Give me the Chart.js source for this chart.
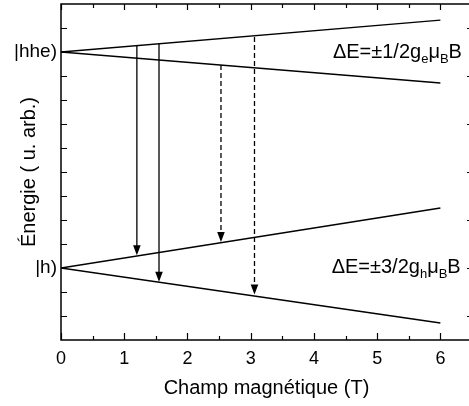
<!DOCTYPE html>
<html>
<head>
<meta charset="utf-8">
<script src="https://cdn.jsdelivr.net/npm/chart.js@4/dist/chart.umd.min.js"></script>
<style>
  html, body { margin: 0; padding: 0; background: #fff; overflow: hidden; }
  .wrap { position: relative; width: 469px; height: 406px; overflow: hidden; }
  canvas { display: block; }
</style>
</head>
<body>
<div class="wrap"><canvas id="myChart" width="480" height="406"></canvas></div>
<script>
// magnetic field (T) at the two ends of each level line
const fieldB = [0, 6];
const hheUpper = [12, 13.33];
const hheLower = [12, 10.71];
const hUpper = [3, 5.5];
const hLower = [3, 0.71];

// level names on the energy axis
const levelNames = ["|hhe)", "|h)"];
const levelValues = [12, 3];

// transition arrows
const arrowB = [1.2, 1.55, 2.53, 3.06];
const arrowFrom = [12.29, 12.36, 11.46, 12.63];
const arrowTo = [3.53, 2.43, 4.08, 1.9];
const arrowDashed = [false, false, true, true];

// splitting labels: [text, isSubscript]
const eqnHhe = [["ΔE=±1/2g", 0], ["e", 1], ["μ", 0], ["B", 1], ["B", 0]];
const eqnH = [["ΔE=±3/2g", 0], ["h", 1], ["μ", 0], ["B", 1], ["B", 0]];
const eqnAt = [[4.3, 11.75], [4.28, 2.79]];

const FONT = "'Liberation Sans', Arial, sans-serif";

const levelLine = function (ys) {
  return {
    data: fieldB.map((b, i) => ({ x: b, y: ys[i] })),
    borderColor: "#000",
    borderWidth: 1.4,
    pointRadius: 0,
    showLine: true,
  };
};

const datasets = [
  levelLine(hheUpper),
  levelLine(hheLower),
  levelLine(hUpper),
  levelLine(hLower),
];
arrowB.forEach((b, i) => {
  datasets.push({
    data: [{ x: b, y: arrowFrom[i] }, { x: b, y: arrowTo[i] + 0.15 }],
    borderColor: "#000",
    borderWidth: 1.3,
    borderDash: arrowDashed[i] ? [5, 3] : [],
    pointRadius: 0,
    showLine: true,
  });
});

// frame (right side falls off the page), inward ticks, arrowheads, equations
const decor = {
  id: "decor",
  afterDatasetsDraw(chart) {
    const c = chart.ctx;
    const a = chart.chartArea;
    const xs = chart.scales.x;
    const ys = chart.scales.y;
    c.save();
    c.strokeStyle = "#000";
    c.lineWidth = 1.5;
    c.beginPath();
    c.moveTo(a.right + 2, a.top);
    c.lineTo(a.left, a.top);
    c.lineTo(a.left, a.bottom);
    c.lineTo(a.right + 2, a.bottom);
    c.stroke();

    c.lineWidth = 1.2;
    c.beginPath();
    for (let v = 0; v <= 6.001; v += 0.5) {
      const px = Math.round(xs.getPixelForValue(v)) + 0.5;
      const major = Math.abs(v - Math.round(v)) < 0.01;
      c.moveTo(px, a.bottom);
      c.lineTo(px, a.bottom - (major ? 7 : 4));
      c.moveTo(px, a.top);
      c.lineTo(px, a.top + (major ? 6 : 4));
    }
    for (let v = 1; v <= 13; v++) {
      const py = Math.round(ys.getPixelForValue(v)) + 0.5;
      c.moveTo(a.left, py);
      c.lineTo(a.left + 6, py);
      if (v % 2 === 1) {
        c.moveTo(a.right, py);
        c.lineTo(a.right - 5, py);
      }
    }
    c.stroke();

    c.fillStyle = "#000";
    arrowB.forEach((b, i) => {
      const px = xs.getPixelForValue(b);
      const py = ys.getPixelForValue(arrowTo[i]);
      c.beginPath();
      c.moveTo(px, py);
      c.lineTo(px - 3.8, py - 10);
      c.lineTo(px + 3.8, py - 10);
      c.closePath();
      c.fill();
    });

    c.textBaseline = "alphabetic";
    [eqnHhe, eqnH].forEach((parts, k) => {
      let x = xs.getPixelForValue(eqnAt[k][0]);
      const y = ys.getPixelForValue(eqnAt[k][1]);
      parts.forEach(([t, sub]) => {
        c.font = (sub ? "13px " : "20px ") + FONT;
        c.fillText(t, x, sub ? y + 5 : y);
        x += c.measureText(t).width;
      });
    });
    c.restore();
  },
};

const config = {
  type: "scatter",
  data: { datasets },
  options: {
    responsive: false,
    animation: false,
    layout: { padding: { top: 4, right: 8, left: 0, bottom: 0 } },
    plugins: { legend: { display: false }, tooltip: { enabled: false } },
    scales: {
      x: {
        type: "linear",
        min: 0,
        max: 6.5,
        grid: { display: false, drawTicks: false },
        border: { display: false },
        ticks: {
          stepSize: 1,
          includeBounds: false,
          padding: 8,
          color: "#000",
          font: { family: FONT, size: 18 },
          callback: (v) => (Number.isInteger(v) ? v : ""),
        },
        title: {
          display: true,
          text: "Champ magnétique (T)",
          color: "#000",
          font: { family: FONT, size: 20 },
          padding: { top: 0, bottom: 6 },
        },
        afterFit: (s) => {
          s.height = 66;
          s.paddingLeft = 0;
          s.paddingRight = 0;
        },
      },
      y: {
        type: "linear",
        min: 0,
        max: 14,
        grid: { display: false, drawTicks: false },
        border: { display: false },
        ticks: {
          stepSize: 1,
          padding: 4,
          autoSkip: false,
          color: "#000",
          font: { family: FONT, size: 19 },
          callback: (v) => {
            const i = levelValues.indexOf(v);
            return i >= 0 ? levelNames[i] : "";
          },
        },
        title: {
          display: true,
          text: "Énergie ( u. arb.)",
          color: "#000",
          font: { family: FONT, size: 20 },
          padding: { top: 17, bottom: 0 },
        },
        afterFit: (s) => {
          s.width = 61;
          s.paddingTop = 0;
          s.paddingBottom = 0;
        },
      },
    },
  },
  plugins: [decor],
};

let myChart = new Chart(document.getElementById("myChart"), config);
</script>
</body>
</html>
